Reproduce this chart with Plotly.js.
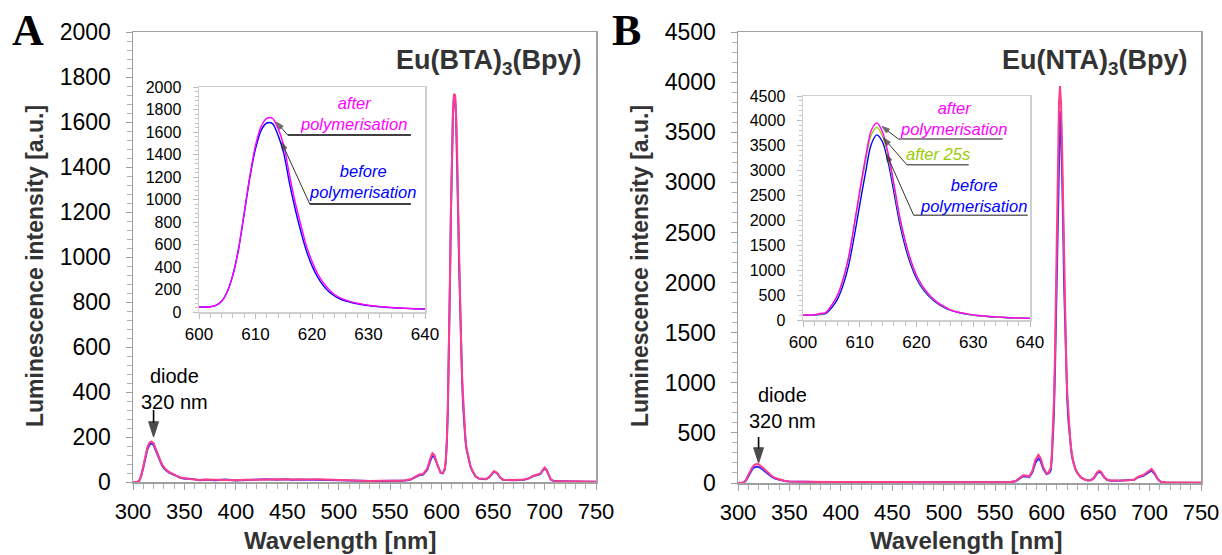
<!DOCTYPE html>
<html>
<head>
<meta charset="utf-8">
<script src="https://cdn.plot.ly/plotly-3.0.1.min.js"></script>
<style>html,body{margin:0;padding:0;background:#fff;}#chart{width:1222px;height:555px;}</style>
</head>
<body>
<div id="chart"></div>
<script>
// ---------- Panel A : Eu(BTA)3(Bpy) main spectrum ----------
const wlA = [300,304,306,308,310,312,314,316,318,320,322,324,326,328,330,332,335,338,342,346,350,355,360,365,370,380,390,400,410,420,430,440,450,455,460,470,480,490,500,510,520,530,540,550,560,565,570,575,578,582,586,589,591,593,596,599,601,602,603,604,605,606,607,608,609,610,611,612,613,614,615,616,617,618,619,620,621,622,623,624,626,628,630,633,636,640,643,646,649,651,654,657,660,665,670,675,680,685,689,693,696,698,700,702,704,706,709,715,720,730,740,750];
const aAfter = [0,0,5,30,70,115,155,175,180,172,150,125,100,80,66,55,45,36,28,20,16,13,11,9,11,9,10,8,10,12,11,12,11,13,10,11,12,10,9,7,6,5,6,5,6,8,12,25,33,36,60,105,128,120,75,42,40,47,58,95,180,330,560,880,1210,1480,1650,1725,1720,1630,1480,1220,980,780,590,450,340,260,200,155,105,70,50,25,16,13,13,22,40,49,40,20,10,8,9,10,11,17,28,33,38,52,64,55,30,12,5,3,2,3,1,1];
const aBefore = [0,0,4,27,64,105,145,165,172,164,142,118,94,75,62,52,42,34,27,19,15,15,10,8,10,8,11,7,9,11,12,10,12,9,11,10,11,9,8,6,4,5,4,6,5,7,11,23,30,33,55,95,116,110,70,40,38,45,56,92,175,320,550,870,1190,1460,1640,1720,1715,1620,1460,1190,950,750,570,435,330,250,192,150,100,68,48,24,15,12,12,20,37,46,38,19,9,7,8,9,10,16,26,31,36,49,60,52,28,11,4,3,4,2,1,1];

// ---------- Inset wavelengths (600-640 nm) ----------
const wlInset = [600,601,602,603,604,605,606,607,608,609,610,611,612,613,614,615,616,617,618,619,620,621,622,623,624,625,626,627,628,629,630,631,632,633,634,635,636,637,638,639,640];
const aInsAfter  = [45,45,47,58,95,180,330,560,880,1210,1480,1650,1722,1722,1630,1480,1220,980,780,590,450,340,260,200,155,125,105,90,78,68,60,53,48,44,40,37,34,32,30,28,27];
const aInsBefore = [45,45,47,58,95,180,330,560,875,1195,1450,1615,1680,1675,1570,1410,1150,920,720,545,410,310,235,180,142,115,97,84,73,64,57,51,46,42,39,36,33,31,29,28,27];

// ---------- Panel B : Eu(NTA)3(Bpy) main spectrum ----------
const wlB = [300,304,306,308,310,312,314,316,318,320,322,324,326,328,330,333,336,340,345,350,360,370,380,390,400,420,440,460,480,500,520,540,560,565,570,574,577,580,583,586,589,592,594,597,600,601,602,603,604,605,606,607,608,609,610,611,612,613,614,615,616,617,618,619,620,621,622,623,624,625,626,628,630,633,636,640,643,646,649,651,653,656,659,662,670,680,685,689,694,698,702,705,708,711,716,725,735,750];
const bAfter = [0,0,8,35,80,125,160,182,190,188,175,155,135,115,95,70,50,35,22,15,12,10,10,9,10,11,14,9,8,7,6,7,8,10,20,55,78,75,65,120,230,280,250,150,95,100,105,130,150,290,480,800,1250,1900,2600,3250,3800,3960,3780,3350,2750,2100,1600,1200,900,690,540,420,330,265,200,140,100,60,40,25,30,55,105,123,110,60,32,25,25,28,35,63,80,110,140,100,40,12,5,4,3,2];
const bBefore = [0,0,6,28,68,108,140,158,163,160,150,135,118,100,82,62,45,32,20,14,11,9,10,8,9,10,13,8,7,6,5,6,7,9,18,48,68,65,58,105,200,246,220,135,88,95,97,108,130,240,405,680,1080,1660,2320,2950,3520,3710,3580,3170,2580,1960,1480,1110,835,640,500,392,308,246,198,135,97,58,38,24,28,50,95,112,100,55,30,23,23,26,32,58,72,98,125,90,36,11,5,3,3,2];

// ---------- Panel B inset ----------
const bInsAfter  = [100,100,105,130,150,290,480,800,1250,1900,2600,3250,3800,3960,3780,3350,2750,2100,1600,1200,900,690,540,420,330,265,200,165,140,122,104,90,79,70,62,55,49,44,40,36,33];
const bIns25s    = [100,100,103,118,145,280,465,775,1215,1850,2540,3170,3710,3870,3700,3280,2690,2050,1560,1170,880,670,525,410,322,258,206,168,140,118,100,87,76,67,59,53,47,42,38,35,32];
const bInsBefore = [95,95,97,108,130,240,405,680,1080,1660,2320,2950,3520,3720,3580,3170,2580,1960,1480,1110,835,640,500,392,308,246,198,162,135,114,97,85,74,65,58,52,46,42,38,35,32];

const PINK = '#ff3d8e', BLUE = '#3030ff', MAG = '#ff00ff', IBLUE = '#0000ff', GREEN = '#99cc00';
const FONT = 'Liberation Sans, Arial, sans-serif';

const traces = [
  {x: wlA, y: aBefore, xaxis:'x', yaxis:'y', mode:'lines', line:{color:BLUE, width:2}},
  {x: wlA, y: aAfter, xaxis:'x', yaxis:'y', mode:'lines', line:{color:PINK, width:2}},
  {x: wlInset, y: aInsBefore, xaxis:'x2', yaxis:'y2', mode:'lines', line:{color:IBLUE, width:1.4, shape:'spline', smoothing:0.8}},
  {x: wlInset, y: aInsAfter, xaxis:'x2', yaxis:'y2', mode:'lines', line:{color:MAG, width:1.4, shape:'spline', smoothing:0.8}},
  {x: wlB, y: bBefore, xaxis:'x3', yaxis:'y3', mode:'lines', line:{color:BLUE, width:2}},
  {x: wlB, y: bAfter, xaxis:'x3', yaxis:'y3', mode:'lines', line:{color:PINK, width:2}},
  {x: wlInset, y: bInsBefore, xaxis:'x4', yaxis:'y4', mode:'lines', line:{color:IBLUE, width:1.4, shape:'spline', smoothing:0.8}},
  {x: wlInset, y: bIns25s, xaxis:'x4', yaxis:'y4', mode:'lines', line:{color:GREEN, width:1.4, shape:'spline', smoothing:0.8}},
  {x: wlInset, y: bInsAfter, xaxis:'x4', yaxis:'y4', mode:'lines', line:{color:MAG, width:1.4, shape:'spline', smoothing:0.8}}
];

const W = 1222, H = 555;
const dx = (a,b) => [a/W, b/W];
const dy = (top,bottom) => [1-bottom/H, 1-top/H];

function mainX(domain, anchor) {
  return {domain, anchor, range:[300,750], dtick:50, tick0:300, showline:true, mirror:true, linecolor:'#a0a0a0', linewidth:1.5,
    ticks:'outside', ticklen:6, tickcolor:'#a0a0a0', tickwidth:1, showgrid:false, zeroline:false,
    minor:{dtick:10, ticks:'outside', ticklen:5, tickcolor:'#b0b0b0', showgrid:false},
    tickfont:{family:FONT, size:22, color:'#000'}, ticklabelstandoff:3, automargin:false};
}
function mainY(domain, anchor, max, dt, mdt) {
  return {domain, anchor, range:[0,max], dtick:dt, showline:true, mirror:true, linecolor:'#a0a0a0', linewidth:1.5,
    ticks:'outside', ticklen:6, tickcolor:'#a0a0a0', tickwidth:1, showgrid:false, zeroline:false,
    minor:{dtick:mdt, ticks:'outside', ticklen:5, tickcolor:'#b0b0b0', showgrid:false},
    tickfont:{family:FONT, size:23, color:'#000'}, ticklabelstandoff:10, automargin:false};
}
function insX(domain, anchor) {
  return {domain, anchor, range:[600,640], dtick:10, showline:true, mirror:true, linecolor:'#cfcfcf', linewidth:1.5,
    ticks:'outside', ticklen:5, tickcolor:'#bbbbbb', showgrid:false, zeroline:false,
    minor:{dtick:2, ticks:'outside', ticklen:4, tickcolor:'#c4c4c4', showgrid:false},
    tickfont:{family:FONT, size:17, color:'#000'}, ticklabelstandoff:1, automargin:false};
}
function insY(domain, anchor, max, dt, mdt) {
  return {domain, anchor, range:[0,max], dtick:dt, showline:true, mirror:true, linecolor:'#cfcfcf', linewidth:1.5,
    ticks:'outside', ticklen:5, tickcolor:'#bbbbbb', showgrid:false, zeroline:false,
    minor:{dtick:mdt, ticks:'outside', ticklen:3, tickcolor:'#c4c4c4', showgrid:false},
    tickfont:{family:FONT, size:16, color:'#000'}, ticklabelstandoff:8, automargin:false};
}

const ann = [];
const shapes = [];
// panel letters
ann.push({xref:'paper', yref:'paper', x:28/W, y:1-30/H, text:'<b>A</b>', showarrow:false, xanchor:'center', yanchor:'middle', font:{family:'Liberation Serif, Times New Roman, serif', size:44, color:'#000'}});
ann.push({xref:'paper', yref:'paper', x:626/W, y:1-30/H, text:'<b>B</b>', showarrow:false, xanchor:'center', yanchor:'middle', font:{family:'Liberation Serif, Times New Roman, serif', size:44, color:'#000'}});
// compound titles
ann.push({xref:'paper', yref:'paper', x:584/W, y:1-62/H, text:'<b>Eu(BTA)<sub>3</sub>(Bpy)</b>', showarrow:false, xanchor:'right', yanchor:'middle', font:{family:FONT, size:27, color:'#333'}});
ann.push({xref:'paper', yref:'paper', x:1190/W, y:1-62/H, text:'<b>Eu(NTA)<sub>3</sub>(Bpy)</b>', showarrow:false, xanchor:'right', yanchor:'middle', font:{family:FONT, size:27, color:'#333'}});
// axis titles
ann.push({xref:'paper', yref:'paper', x:340/W, y:1-540/H, text:'<b>Wavelength [nm]</b>', showarrow:false, xanchor:'center', yanchor:'middle', font:{family:FONT, size:24, color:'#333'}});
ann.push({xref:'paper', yref:'paper', x:966/W, y:1-540/H, text:'<b>Wavelength [nm]</b>', showarrow:false, xanchor:'center', yanchor:'middle', font:{family:FONT, size:24, color:'#333'}});
ann.push({xref:'paper', yref:'paper', x:35/W, y:1-266/H, text:'<b>Luminescence intensity [a.u.]</b>', textangle:-90, showarrow:false, xanchor:'center', yanchor:'middle', font:{family:FONT, size:23, color:'#333'}});
ann.push({xref:'paper', yref:'paper', x:640/W, y:1-266/H, text:'<b>Luminescence intensity [a.u.]</b>', textangle:-90, showarrow:false, xanchor:'center', yanchor:'middle', font:{family:FONT, size:23, color:'#333'}});
// diode labels
ann.push({xref:'x', yref:'y', x:340, y:413, text:'diode<br>320 nm', showarrow:false, xanchor:'center', yanchor:'middle', font:{family:FONT, size:20, color:'#000'}});
ann.push({xref:'x3', yref:'y3', x:343, y:748, text:'diode<br>320 nm', showarrow:false, xanchor:'center', yanchor:'middle', font:{family:FONT, size:20, color:'#000'}});

// arrows drawn as line traces with an arrow marker at the head
function arrowTrace(xa, ya, tail, head, color, width, size) {
  traces.push({x:[tail[0], head[0]], y:[tail[1], head[1]], xaxis:xa, yaxis:ya, mode:'lines+markers',
    line:{color, width}, marker:{symbol:'arrow', angleref:'previous', size:[0,size], color, line:{width:1, color}}, hoverinfo:'skip'});
}
arrowTrace('x','y', [320,320], [320,200], '#000', 1.6, 16);
arrowTrace('x3','y3', [320,459], [320,200], '#000', 1.6, 16);

function label(xr, yr, x, y, text, color) {
  ann.push({xref:xr, yref:yr, x, y, text:'<i>'+text+'</i>', showarrow:false, xanchor:'center', yanchor:'middle', font:{family:FONT, size:16.5, color}});
}
function pointer(xr, yr, hx, hy, tx, ty, lx0, lx1, lcolor) {
  arrowTrace(xr, yr, [tx, ty], [hx, hy], '#333', 1, 8);
  shapes.push({type:'line', xref:xr, yref:yr, x0:lx0, x1:lx1, y0:ty, y1:ty, line:{color:lcolor, width:1.5}});
}
// inset A labels
label('x2','y2', 627.3, 1765, 'after<br>polymerisation', MAG);
pointer('x2','y2', 613.7, 1688, 615.7, 1573, 615.7, 637.5, '#000');
label('x2','y2', 629, 1160, 'before<br>polymerisation', IBLUE);
pointer('x2','y2', 614.6, 1510, 619.6, 960, 619.6, 637.5, '#000');
// inset B labels
label('x4','y4', 626.6, 4040, 'after<br>polymerisation', MAG);
pointer('x4','y4', 613.9, 3890, 616.8, 3636, 616.8, 635.2, '#666');
label('x4','y4', 623.8, 3330, 'after 25s', GREEN);
pointer('x4','y4', 614.2, 3656, 618.3, 3118, 618.3, 629.2, '#666');
label('x4','y4', 630, 2500, 'before<br>polymerisation', IBLUE);
pointer('x4','y4', 614.7, 3335, 619.5, 2105, 619.5, 639.6, '#666');

const layout = {
  width:W, height:H, margin:{l:0,r:0,t:0,b:0}, paper_bgcolor:'#fff', plot_bgcolor:'#fff', showlegend:false,
  font:{family:FONT},
  xaxis: mainX(dx(133,596), 'y'),
  yaxis: mainY(dy(32,482), 'x', 2000, 200, 40),
  xaxis2: insX(dx(199,425), 'y2'),
  yaxis2: insY(dy(87,312), 'x2', 2000, 200, 40),
  xaxis3: mainX(dx(738,1201), 'y3'),
  yaxis3: mainY(dy(32,483), 'x3', 4500, 500, 100),
  xaxis4: insX(dx(803,1030), 'y4'),
  yaxis4: insY(dy(96,320), 'x4', 4500, 500, 100),
  annotations: ann,
  shapes: shapes
};
Plotly.newPlot('chart', traces, layout, {displayModeBar:false, staticPlot:true});
</script>
</body>
</html>
